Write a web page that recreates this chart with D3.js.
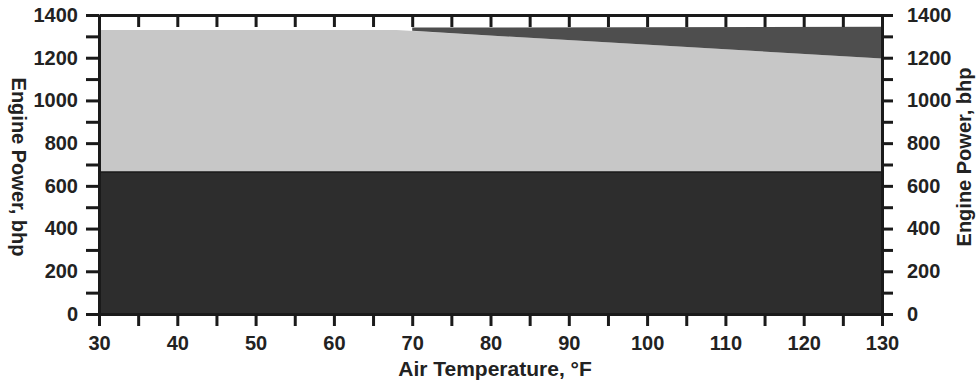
<!DOCTYPE html>
<html><head><meta charset="utf-8">
<script src="https://cdn.jsdelivr.net/npm/d3@7"></script>
<style>body{margin:0;background:#fff}svg{display:block}text{font-family:"Liberation Sans",Arial,sans-serif;fill:#222}</style>
</head><body><svg id="c" width="977" height="385"></svg>
<script>
// Data
const tempTicks = [30,40,50,60,70,80,90,100,110,120,130];
const powerTicks = [0,200,400,600,800,1000,1200,1400];
// dark lower band (constant load)
const lowerTemp = [30,130];
const lowerPower = [665,665];
// light band upper boundary (available power)
const upperTemp = [30,68,130];
const upperPower = [1330,1330,1196];
// dark top band (loss region)
const lossTemp = [70,130];
const lossTop = [1341,1345];
const xTitle = "Air Temperature, °F";
const yTitle = "Engine Power, bhp";

const svg = d3.select("#c");
const L=99,R=882,T=15,B=314;
const x = d3.scaleLinear().domain([30,130]).range([L,R]);
const y = d3.scaleLinear().domain([0,1400]).range([B,T]);

// light gray area
const upperFn = d3.scaleLinear().domain(upperTemp).range(upperPower);
svg.append("path")
  .datum(upperTemp.map((t,i)=>[t,upperPower[i]]))
  .attr("d", d3.area().x(d=>x(d[0])).y0(y(0)).y1(d=>y(d[1])))
  .attr("fill","#c7c7c7");
// dark top band
const lossTopFn = d3.scaleLinear().domain(lossTemp).range(lossTop);
const lossPts = [lossTemp[0], ...upperTemp.filter(t=>t>lossTemp[0])];
svg.append("path")
  .datum(lossPts.map(t=>[t, upperFn(t), lossTopFn(t)]))
  .attr("d", d3.area().x(d=>x(d[0])).y0(d=>y(d[1])).y1(d=>y(d[2])))
  .attr("fill","#4e4e4e");
// dark lower band
svg.append("path")
  .datum(lowerTemp.map((t,i)=>[t,lowerPower[i]]))
  .attr("d", d3.area().x(d=>x(d[0])).y0(y(0)).y1(d=>y(d[1])))
  .attr("fill","#2d2d2d");
svg.append("line").attr("x1",x(30)).attr("x2",x(130)).attr("y1",y(lowerPower[0])).attr("y2",y(lowerPower[0]))
  .attr("stroke","#1a1a1a").attr("stroke-width",1.5);

const minorX = d3.range(30,131,5);
const minorY = d3.range(0,1401,100);
function styleAxis(g){
  g.select(".domain").attr("stroke","#1a1a1a").attr("stroke-width",3);
  g.selectAll(".tick line").attr("stroke","#1a1a1a").attr("stroke-width",3);
  g.selectAll("text").attr("font-size",20).attr("font-weight","bold").style("fill","#222");
}
// bottom
svg.append("g").attr("transform",`translate(0,${B})`)
  .call(d3.axisBottom(x).tickValues(minorX).tickSize(12).tickSizeOuter(0)
    .tickFormat(d=>tempTicks.includes(d)?d:"").tickPadding(10))
  .call(styleAxis);
// top (ticks inward)
svg.append("g").attr("transform",`translate(0,${T})`)
  .call(d3.axisBottom(x).tickValues(minorX).tickSize(12).tickSizeOuter(0).tickFormat(""))
  .call(styleAxis);
// left
svg.append("g").attr("transform",`translate(${L},0)`)
  .call(d3.axisLeft(y).tickValues(minorY).tickSize(13).tickSizeOuter(0)
    .tickFormat(d=>powerTicks.includes(d)?d:"").tickPadding(8))
  .call(styleAxis);
// right
svg.append("g").attr("transform",`translate(${R},0)`)
  .call(d3.axisRight(y).tickValues(minorY).tickSize(11).tickSizeOuter(0)
    .tickFormat(d=>powerTicks.includes(d)?d:"").tickPadding(14))
  .call(styleAxis);

// titles
svg.append("text").attr("x",495).attr("y",376).attr("text-anchor","middle")
  .attr("font-size",21).attr("font-weight","bold").text(xTitle);
svg.append("text").attr("transform","translate(12,167) rotate(90)").attr("text-anchor","middle")
  .attr("font-size",20).attr("font-weight","bold").text(yTitle);
svg.append("text").attr("transform","translate(971,157) rotate(-90)").attr("text-anchor","middle")
  .attr("font-size",20).attr("font-weight","bold").text(yTitle);
</script></body></html>
